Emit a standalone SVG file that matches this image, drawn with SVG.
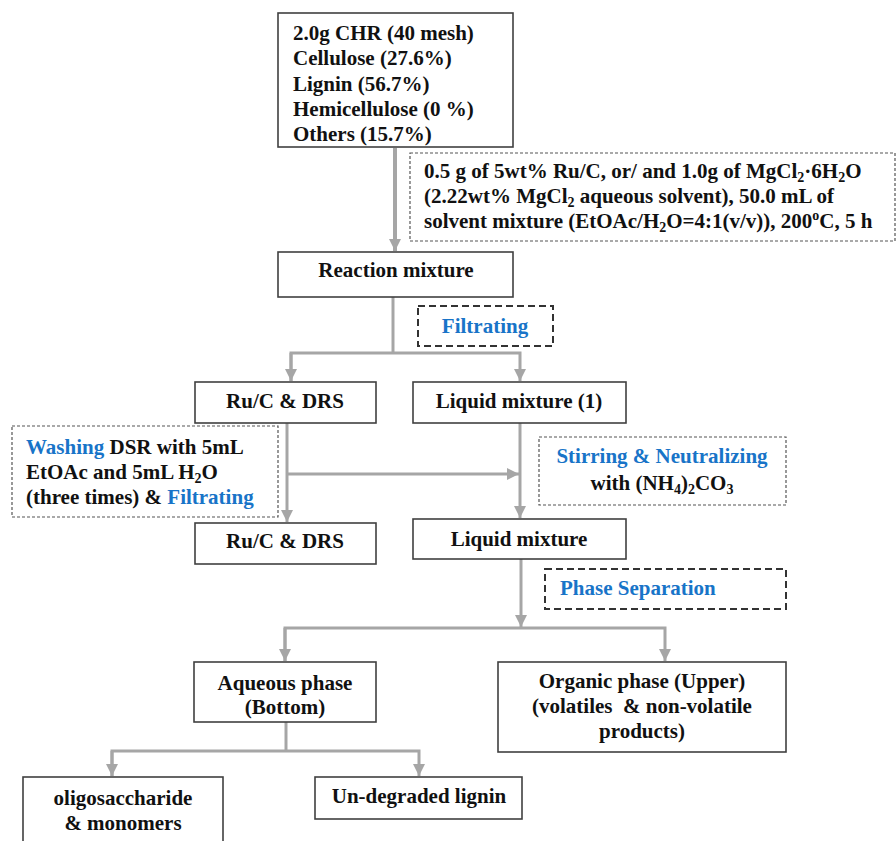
<svg xmlns="http://www.w3.org/2000/svg" width="896" height="841" viewBox="0 0 896 841">
<style>
text{font-family:"Liberation Serif","Times New Roman",serif;font-weight:bold;font-size:21px;fill:#111}
.c{text-anchor:middle}
.b{fill:#1874C8}
.box{fill:#fff;stroke:#404040;stroke-width:1.6}
.dfine{fill:none;stroke:#555;stroke-width:1.2;stroke-dasharray:3 2}
.dbold{fill:none;stroke:#333;stroke-width:2;stroke-dasharray:7 4}
.ln{fill:none;stroke:#A6A6A6;stroke-width:3}
.sub{font-size:14px}
</style>
<defs>
<marker id="ah" markerUnits="userSpaceOnUse" markerWidth="12" markerHeight="12" refX="12" refY="6" orient="auto">
<path d="M0,0 L12,6 L0,12 z" fill="#A6A6A6"/>
</marker>
</defs>
<g id="connectors">
<line class="ln" x1="395" y1="148" x2="395" y2="251" style="stroke-width:4" marker-end="url(#ah)"/>
<polyline class="ln" points="393,297 393,353"/>
<polyline class="ln" points="291,381 291,353 520,353 520,381" marker-end="url(#ah)"/>
<line class="ln" x1="291" y1="353" x2="291" y2="381" marker-end="url(#ah)"/>
<line class="ln" x1="287" y1="423" x2="287" y2="522" marker-end="url(#ah)"/>
<line class="ln" x1="287" y1="474" x2="519" y2="474" marker-end="url(#ah)"/>
<line class="ln" x1="520" y1="423" x2="520" y2="518" marker-end="url(#ah)"/>
<line class="ln" x1="521" y1="559" x2="521" y2="627" marker-end="url(#ah)"/>
<polyline class="ln" points="285,661 285,628 665,628 665,661" marker-end="url(#ah)"/>
<line class="ln" x1="285" y1="628" x2="285" y2="661" marker-end="url(#ah)"/>
<polyline class="ln" points="286,722 286,751"/>
<polyline class="ln" points="112,776 112,751 419,751 419,776" marker-end="url(#ah)"/>
<line class="ln" x1="112" y1="751" x2="112" y2="776" marker-end="url(#ah)"/>
</g>
<g id="n_chr">
<rect class="box" x="278" y="13" width="235" height="134"/>
<text x="293" y="40">2.0g CHR (40 mesh)</text>
<text x="293" y="65">Cellulose (27.6%)</text>
<text x="293" y="91">Lignin (56.7%)</text>
<text x="293" y="116">Hemicellulose (0 %)</text>
<text x="293" y="141">Others (15.7%)</text>
</g>
<g id="n_cond">
<rect class="dfine" x="410" y="153" width="485" height="88"/>
<text x="424" y="178">0.5 g of 5wt% Ru/C, or/ and 1.0g of MgCl<tspan class="sub" dy="4">2</tspan><tspan dy="-4">·6H</tspan><tspan class="sub" dy="4">2</tspan><tspan dy="-4">O</tspan></text>
<text x="424" y="203">(2.22wt% MgCl<tspan class="sub" dy="4">2</tspan><tspan dy="-4"> aqueous solvent), 50.0 mL of</tspan></text>
<text x="424" y="228">solvent mixture (EtOAc/H<tspan class="sub" dy="4">2</tspan><tspan dy="-4">O=4:1(v/v)), 200</tspan><tspan class="sub" dy="-8">o</tspan><tspan dy="8">C, 5 h</tspan></text>
</g>
<g id="n_reaction">
<rect class="box" x="278" y="252" width="235" height="45"/>
<text class="c" x="396" y="277">Reaction mixture</text>
</g>
<g id="n_filtrating">
<rect class="dbold" x="418" y="306" width="135" height="40"/>
<text class="c b" x="485" y="333">Filtrating</text>
</g>
<g id="n_ruc1">
<rect class="box" x="195" y="382" width="181" height="41"/>
<text class="c" x="285" y="408">Ru/C &amp; DRS</text>
</g>
<g id="n_liq1">
<rect class="box" x="413" y="382" width="213" height="41"/>
<text class="c" x="519" y="408">Liquid mixture (1)</text>
</g>
<g id="n_washing">
<rect class="dfine" x="12" y="426" width="266" height="91"/>
<text x="26" y="454"><tspan class="b">Washing</tspan> DSR with 5mL</text>
<text x="26" y="479">EtOAc and 5mL H<tspan class="sub" dy="4">2</tspan><tspan dy="-4">O</tspan></text>
<text x="26" y="504">(three times) &amp; <tspan class="b">Filtrating</tspan></text>
</g>
<g id="n_stirring">
<rect class="dfine" x="539" y="437" width="247" height="68"/>
<text class="c b" x="662" y="463">Stirring &amp; Neutralizing</text>
<text class="c" x="662" y="490">with (NH<tspan class="sub" dy="4">4</tspan><tspan dy="-4">)</tspan><tspan class="sub" dy="4">2</tspan><tspan dy="-4">CO</tspan><tspan class="sub" dy="4">3</tspan></text>
</g>
<g id="n_ruc2">
<rect class="box" x="195" y="523" width="181" height="41"/>
<text class="c" x="285" y="548">Ru/C &amp; DRS</text>
</g>
<g id="n_liq">
<rect class="box" x="413" y="519" width="213" height="40"/>
<text class="c" x="519" y="546">Liquid mixture</text>
</g>
<g id="n_phase">
<rect class="dbold" x="545" y="569" width="241" height="40"/>
<text class="b" x="560" y="595">Phase Separation</text>
</g>
<g id="n_aqueous">
<rect class="box" x="194" y="662" width="182" height="60"/>
<text class="c" x="285" y="690">Aqueous phase</text>
<text class="c" x="285" y="714">(Bottom)</text>
</g>
<g id="n_organic">
<rect class="box" x="498" y="662" width="288" height="90"/>
<text class="c" x="642" y="688">Organic phase (Upper)</text>
<text class="c" x="642" y="713" xml:space="preserve">(volatiles  &amp; non-volatile</text>
<text class="c" x="642" y="738">products)</text>
</g>
<g id="n_oligo">
<rect class="box" x="23" y="777" width="200" height="70"/>
<text class="c" x="123" y="805">oligosaccharide</text>
<text class="c" x="123" y="830">&amp; monomers</text>
</g>
<g id="n_undegraded">
<rect class="box" x="315" y="777" width="207" height="42"/>
<text class="c" x="419" y="803">Un-degraded lignin</text>
</g>
</svg>
